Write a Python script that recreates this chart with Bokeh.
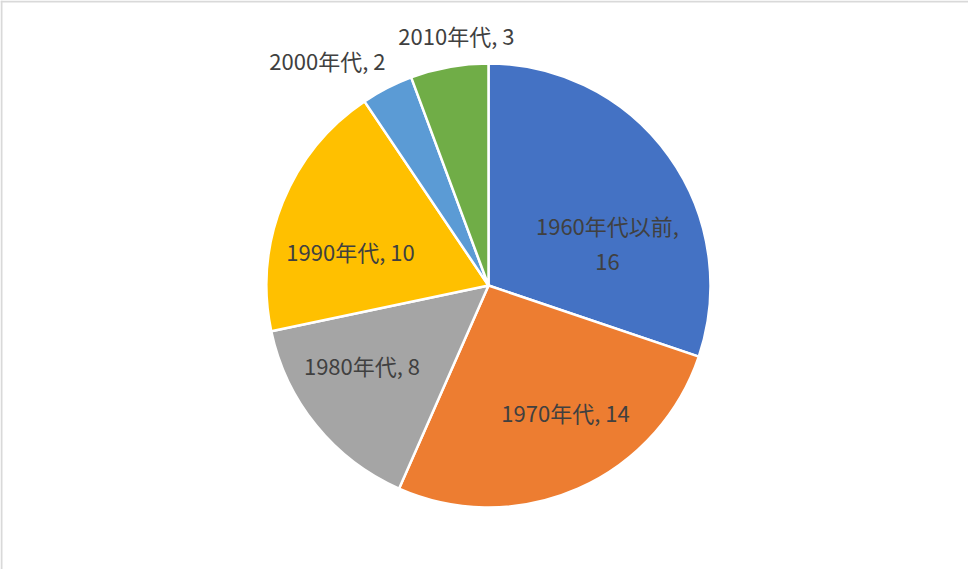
import math
from bokeh.plotting import figure
from bokeh.models import ColumnDataSource, Span
from bokeh.core.properties import value
from bokeh.embed import file_html
from bokeh.resources import INLINE

# ---- data ----
categories = ["1960年代以前", "1970年代", "1980年代", "1990年代", "2000年代", "2010年代"]
counts = [16, 14, 8, 10, 2, 3]
colors = ["#4472C4", "#ED7D31", "#A5A5A5", "#FFC000", "#5B9BD5", "#70AD47"]

# ---- layout (label placement, polar from pie centre) ----
label_angle_deg = [19.9, -58.6, -147.7, 165.8, 125.5, 97.3]
label_radius = [126.5, 147.7, 149.7, 142.4, 277.5, 253.0]

W, H = 968, 569
cx, cy = 488, 577 - 293
R = 222

total = sum(counts)
starts, ends = [], []
a = math.pi / 2
for c in counts:
    span = 2 * math.pi * c / total
    ends.append(a)
    starts.append(a - span)
    a -= span

src = ColumnDataSource(dict(
    x=[cx] * len(counts), y=[cy] * len(counts),
    start=starts, end=ends, color=colors))

p = figure(width=W, height=H, x_range=(0, W), y_range=(0, H),
           output_backend="svg", toolbar_location=None, min_border=0)
p.axis.visible = False
p.grid.visible = False
p.outline_line_color = None
p.background_fill_color = "white"
p.border_fill_color = "white"

p.wedge(x="x", y="y", radius=R, start_angle="start", end_angle="end",
        fill_color="color", line_color="white", line_width=2.5, source=src)

lx, ly, txt = [], [], []
for cat, c, ang, r in zip(categories, counts, label_angle_deg, label_radius):
    t = math.radians(ang)
    lx.append(cx + r * math.cos(t))
    ly.append(cy + r * math.sin(t))
    if cat == "1960年代以前":
        txt.append(f"{cat},\n{c}")
    else:
        txt.append(f"{cat}, {c}")

p.text(x=lx, y=ly, text=txt, text_align="center", text_baseline="middle",
       text_font=value("Noto Sans CJK JP"), text_font_size="22px",
       text_color="#404040", text_line_height=1.1)

p.add_layout(Span(location=1, dimension="height", line_color="#d9d9d9", line_width=2))
p.add_layout(Span(location=H - 1, dimension="width", line_color="#d9d9d9", line_width=2))

open("out.html", "w").write(file_html(p, INLINE))
